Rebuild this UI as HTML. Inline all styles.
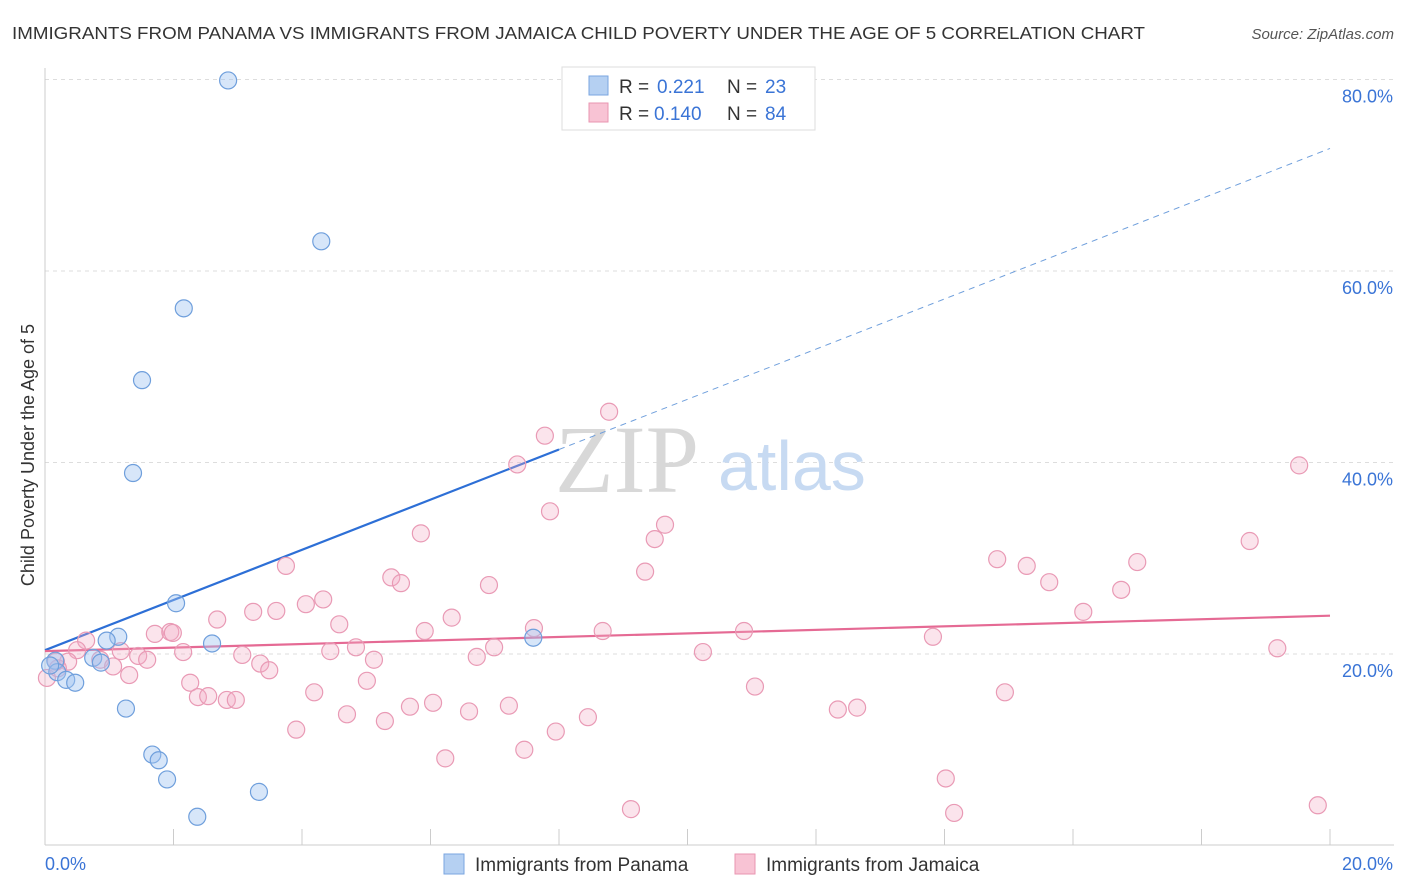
<!DOCTYPE html>
<html><head><meta charset="utf-8">
<style>
body{margin:0;background:#fff;font-family:"Liberation Sans",sans-serif;}
#wrap{position:relative;width:1406px;height:892px;overflow:hidden;}
</style></head>
<body>
<div id="wrap">
<svg id="chart" width="1406" height="892">
  <text x="12" y="39" font-size="17.5" fill="#333" textLength="1133" lengthAdjust="spacingAndGlyphs">IMMIGRANTS FROM PANAMA VS IMMIGRANTS FROM JAMAICA CHILD POVERTY UNDER THE AGE OF 5 CORRELATION CHART</text>
  <text x="1394" y="39" font-size="15" fill="#555" font-style="italic" text-anchor="end">Source: ZipAtlas.com</text>
  <text x="34" y="455" font-size="18" fill="#333" text-anchor="middle" transform="rotate(-90 34 455)">Child Poverty Under the Age of 5</text>
  <g id="grid"></g>
  <text x="555" y="492" font-size="96" font-family="Liberation Serif,serif" fill="#d8d8d8">ZIP</text>
  <text x="718" y="490" font-size="70" fill="#c7daf2">atlas</text>
  <g id="lines"></g>
  <g id="points"></g>
  <g>
    <rect x="562" y="67" width="253" height="63" fill="#fff" stroke="#ddd"/>
    <rect x="589" y="76" width="19" height="19" fill="#b5d0f2" stroke="#7aa6e0"/>
    <rect x="589" y="103" width="19" height="19" fill="#f8c3d4" stroke="#e996b1"/>
    <text x="619" y="93" font-size="19" fill="#333">R =</text>
    <text x="657" y="93" font-size="19" fill="#3a74d6">0.221</text>
    <text x="727" y="93" font-size="19" fill="#333">N =</text>
    <text x="765" y="93" font-size="19" fill="#3a74d6">23</text>
    <text x="619" y="120" font-size="19" fill="#333">R =</text>
    <text x="654" y="120" font-size="19" fill="#3a74d6">0.140</text>
    <text x="727" y="120" font-size="19" fill="#333">N =</text>
    <text x="765" y="120" font-size="19" fill="#3a74d6">84</text>
  </g>
  <g>
    <rect x="444" y="854" width="20" height="20" fill="#b5d0f2" stroke="#7aa6e0"/>
    <text x="475" y="871" font-size="19" fill="#333">Immigrants from Panama</text>
    <rect x="735" y="854" width="20" height="20" fill="#f8c3d4" stroke="#e996b1"/>
    <text x="766" y="871" font-size="19" fill="#333">Immigrants from Jamaica</text>
  </g>
</svg>
</div>
<script>
const xTicks=[0,2,4,6,8,10,12,14,16,18,20];
const yTicks=[20,40,60,80];
const yTickLabels=["20.0%","40.0%","60.0%","80.0%"];
const panamaX=[2.85,4.30,2.16,1.51,1.37,2.04,1.14,0.96,2.60,7.60,0.16,0.75,0.87,0.19,0.33,0.47,1.26,1.67,1.77,1.90,3.33,2.37,0.08];
const panamaY=[79.9,63.1,56.1,48.6,38.9,25.3,21.8,21.4,21.1,21.7,19.3,19.6,19.1,18.1,17.3,17.0,14.3,9.5,8.9,6.9,5.6,3.0,18.8];
const jamaicaX=[8.78,7.78,7.35,7.86,9.65,9.49,5.85,3.75,9.34,5.39,5.54,6.91,14.82,15.28,15.63,17.00,16.75,18.75,19.52,16.16,2.68,3.24,3.60,4.06,4.33,4.58,6.33,5.91,7.61,8.68,10.88,13.82,19.18,6.99,6.72,4.84,4.44,5.12,10.24,1.71,1.95,1.99,2.15,0.64,0.50,0.36,0.03,0.20,0.17,0.86,1.06,1.18,1.45,1.59,1.31,3.07,3.35,3.49,2.26,2.38,2.54,2.83,2.97,4.19,5.01,4.70,5.29,5.68,6.04,6.60,7.22,8.45,7.95,7.46,3.91,6.23,11.05,14.94,12.34,12.64,14.02,14.15,9.12,19.81];
const jamaicaY=[45.3,42.8,39.8,34.9,33.5,32.0,32.6,29.2,28.6,28.0,27.4,27.2,29.9,29.2,27.5,29.6,26.7,31.8,39.7,24.4,23.6,24.4,24.5,25.2,25.7,23.1,23.8,22.4,22.7,22.4,22.4,21.8,20.6,20.7,19.7,20.7,20.3,19.4,20.2,22.1,22.3,22.2,20.2,21.4,20.4,19.2,17.5,18.5,19.2,19.4,18.7,20.3,19.8,19.4,17.8,19.9,19.0,18.3,17.0,15.5,15.6,15.2,15.2,16.0,17.2,13.7,13.0,14.5,14.9,14.0,14.6,13.4,11.9,10.0,12.1,9.1,16.6,16.0,14.2,14.4,7.0,3.4,3.8,4.2];
const panamaTrend=[20.4,72.8];
const jamaicaTrend=[20.3,24.0];
const panamaSolidEnd=8.0;

const NS="http://www.w3.org/2000/svg";
const X=v=>45+v*64.25;
const Y=v=>845.5-v*9.575;
function mk(tag,attrs,parent){const e=document.createElementNS(NS,tag);for(const k in attrs)e.setAttribute(k,attrs[k]);parent.appendChild(e);return e;}
const grid=document.getElementById('grid');
yTicks.forEach((t,i)=>{
  const l=mk('line',{x1:45,x2:1394,y1:Y(t),y2:Y(t),stroke:'#ddd','stroke-dasharray':'4,4'},grid);
  
  
  const tx=mk('text',{x:1393,y:Y(t)+23,'font-size':18,fill:'#3a74d6','text-anchor':'end'},grid);
  tx.textContent=yTickLabels[i];
  
  
});
const axl=mk('line',{x1:45,x2:45,y1:68,y2:845,stroke:'#ccc'},grid);


const axb=mk('line',{x1:45,x2:1394,y1:845,y2:845,stroke:'#ccc'},grid);


xTicks.forEach(t=>{
  const l=mk('line',{x1:X(t),x2:X(t),y1:829,y2:845,stroke:'#ccc'},grid);
  
  
});
const xl0=mk('text',{x:45,y:870,'font-size':18,fill:'#3a74d6'},grid);
xl0.textContent=xTicks[0].toFixed(1)+'%';


const xl1=mk('text',{x:1393,y:870,'font-size':18,fill:'#3a74d6','text-anchor':'end'},grid);
xl1.textContent=xTicks[xTicks.length-1].toFixed(1)+'%';



const pts=document.getElementById('points');
jamaicaX.forEach((x,i)=>{
  const c=mk('circle',{cx:X(x),cy:Y(jamaicaY[i]),r:8.5,fill:'rgba(244,170,196,0.32)',stroke:'#e99ab5','stroke-width':1.2},pts);
  
  
});
panamaX.forEach((x,i)=>{
  const c=mk('circle',{cx:X(x),cy:Y(panamaY[i]),r:8.5,fill:'rgba(160,196,240,0.42)',stroke:'#6f9fdc','stroke-width':1.2},pts);
  
  
});
const lines=document.getElementById('lines');
const pAt=x=>panamaTrend[0]+(panamaTrend[1]-panamaTrend[0])*x/20;
const b1=mk('line',{x1:X(0),y1:Y(pAt(0)),x2:X(panamaSolidEnd),y2:Y(pAt(panamaSolidEnd)),stroke:'#2d6fd6','stroke-width':2.2},lines);


const b2=mk('line',{x1:X(panamaSolidEnd),y1:Y(pAt(panamaSolidEnd)),x2:X(20),y2:Y(pAt(20)),stroke:'#6f9fdc','stroke-width':1,'stroke-dasharray':'6,5'},lines);


const j1=mk('line',{x1:X(0),y1:Y(jamaicaTrend[0]),x2:X(20),y2:Y(jamaicaTrend[1]),stroke:'#e56a94','stroke-width':2.2},lines);


</script>
</body></html>
